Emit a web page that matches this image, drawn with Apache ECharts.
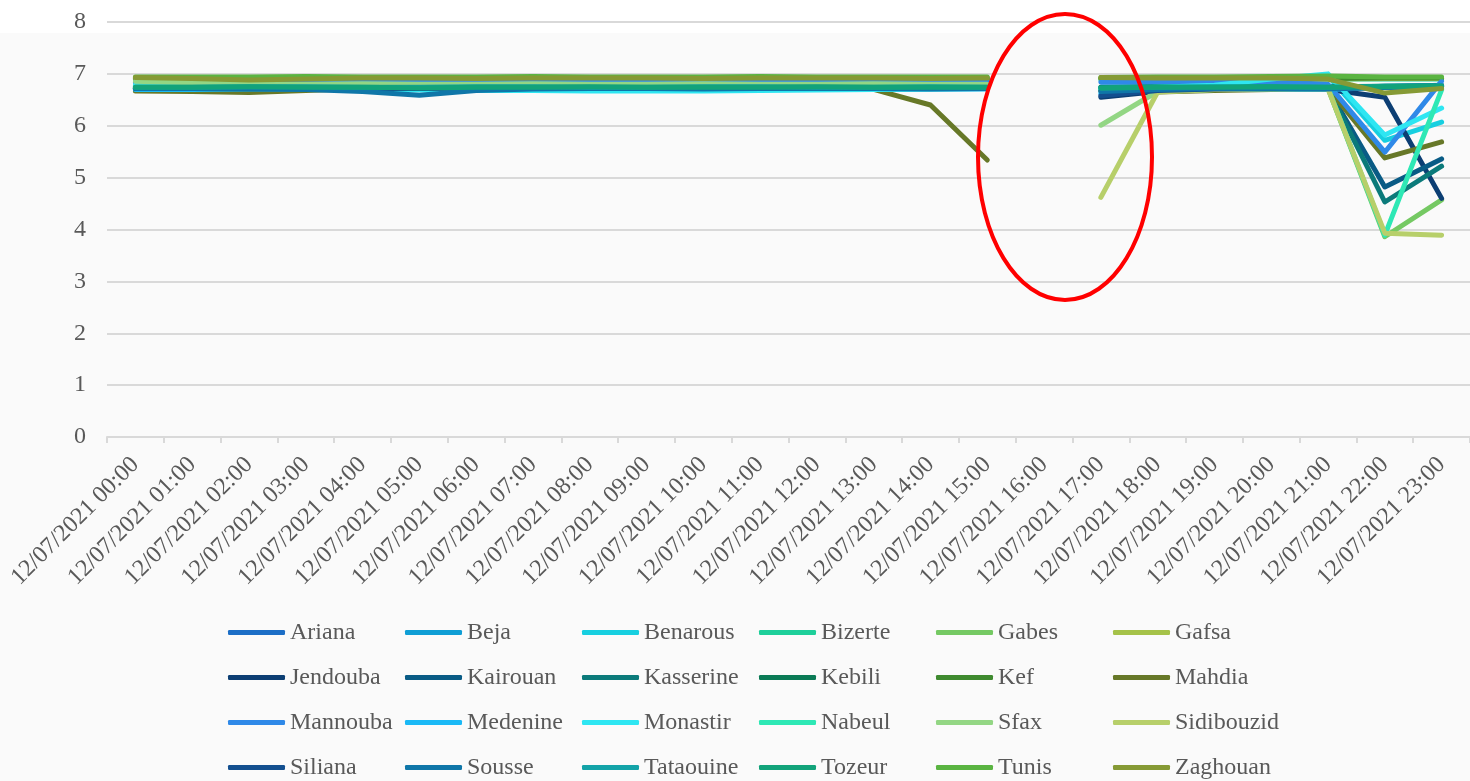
<!DOCTYPE html>
<html>
<head>
<meta charset="utf-8">
<script src="https://cdn.jsdelivr.net/npm/echarts@6/dist/echarts.min.js"></script>
<style>
  html, body { margin: 0; padding: 0; background: #fff; }
  #chart { width: 1470px; height: 781px; }
</style>
</head>
<body>
<div id="chart"></div>
<script>
// hourly readings, 12/07/2021 (16:00 missing for every region)
var hours = ['12/07/2021 00:00','12/07/2021 01:00','12/07/2021 02:00','12/07/2021 03:00','12/07/2021 04:00','12/07/2021 05:00',
  '12/07/2021 06:00','12/07/2021 07:00','12/07/2021 08:00','12/07/2021 09:00','12/07/2021 10:00','12/07/2021 11:00',
  '12/07/2021 12:00','12/07/2021 13:00','12/07/2021 14:00','12/07/2021 15:00','12/07/2021 16:00','12/07/2021 17:00',
  '12/07/2021 18:00','12/07/2021 19:00','12/07/2021 20:00','12/07/2021 21:00','12/07/2021 22:00','12/07/2021 23:00'];
var yTicks = [0, 1, 2, 3, 4, 5, 6, 7, 8];

var ariana     = [6.74,6.74,6.75,6.76,6.75,6.72,6.73,6.74,6.75,6.74,6.74,6.75,6.74,6.74,6.75,6.74,null,6.72,6.74,6.75,6.74,6.73,6.75,6.78];
var beja       = [6.72,6.72,6.73,6.73,6.74,6.73,6.73,6.72,6.73,6.73,6.72,6.73,6.73,6.72,6.73,6.73,null,6.72,6.73,6.74,6.73,6.72,6.76,6.77];
var benarous   = [6.76,6.75,6.75,6.76,6.76,6.75,6.74,6.74,6.73,6.73,6.72,6.73,6.74,6.75,6.74,6.74,null,6.74,6.76,6.80,6.88,6.96,5.72,6.07];
var bizerte    = [6.88,6.88,6.89,6.90,6.90,6.89,6.90,6.90,6.91,6.90,6.90,6.90,6.90,6.91,6.90,6.90,null,6.88,6.89,6.90,6.90,6.90,6.90,6.90];
var gabes      = [6.71,6.71,6.72,6.72,6.73,6.72,6.72,6.72,6.73,6.72,6.72,6.72,6.73,6.72,6.72,6.72,null,6.70,6.72,6.72,6.73,6.72,3.86,4.57];
var gafsa      = [6.90,6.90,6.89,6.90,6.91,6.90,6.90,6.91,6.91,6.90,6.90,6.91,6.90,6.90,6.91,6.90,null,6.90,6.91,6.90,6.91,6.90,6.91,6.91];
var jendouba   = [6.73,6.73,6.74,6.74,6.73,6.73,6.74,6.74,6.73,6.73,6.74,6.74,6.73,6.73,6.74,6.73,null,6.55,6.66,6.70,6.72,6.70,6.55,4.60];
var kairouan   = [6.71,6.71,6.72,6.72,6.72,6.71,6.71,6.72,6.72,6.72,6.71,6.72,6.72,6.71,6.72,6.72,null,6.68,6.70,6.72,6.72,6.71,4.82,5.36];
var kasserine  = [6.72,6.72,6.72,6.73,6.73,6.72,6.72,6.73,6.73,6.72,6.72,6.73,6.73,6.72,6.72,6.73,null,6.70,6.72,6.73,6.72,6.72,4.53,5.22];
var kebili     = [6.75,6.75,6.76,6.76,6.75,6.75,6.76,6.76,6.75,6.75,6.76,6.76,6.75,6.75,6.76,6.75,null,6.74,6.75,6.76,6.76,6.75,6.76,6.77];
var kef        = [6.91,6.91,6.90,6.91,6.92,6.91,6.91,6.92,6.92,6.91,6.91,6.92,6.91,6.91,6.92,6.91,null,6.91,6.92,6.91,6.92,6.91,6.92,6.92];
var mahdia     = [6.67,6.66,6.64,6.68,6.72,6.72,6.72,6.69,6.71,6.71,6.72,6.72,6.72,6.70,6.40,5.34,null,6.68,6.65,6.68,6.70,6.72,5.38,5.69];
var mannouba   = [6.84,6.84,6.85,6.88,6.85,6.84,6.84,6.85,6.86,6.86,6.85,6.85,6.86,6.86,6.85,6.86,null,6.84,6.85,6.86,6.85,6.80,5.49,6.86];
var medenine   = [6.70,6.70,6.71,6.71,6.72,6.71,6.70,6.71,6.71,6.70,6.70,6.71,6.71,6.70,6.71,6.71,null,6.62,6.68,6.70,6.71,6.70,6.74,6.75];
var monastir   = [6.78,6.76,6.74,6.72,6.70,6.69,6.68,6.68,6.67,6.67,6.67,6.68,6.69,6.70,6.71,6.72,null,6.70,6.74,6.78,6.90,7.00,5.82,6.34];
var nabeul     = [6.73,6.73,6.74,6.74,6.74,6.73,6.73,6.74,6.74,6.73,6.73,6.74,6.74,6.73,6.74,6.74,null,6.72,6.73,6.74,6.74,6.73,3.89,6.69];
var sfax       = [6.86,6.83,6.80,6.80,6.81,6.80,6.80,6.81,6.80,6.80,6.81,6.80,6.80,6.81,6.80,6.80,null,6.01,6.66,6.70,6.72,6.72,6.74,6.75];
var sidibouzid = [6.74,6.74,6.73,6.74,6.74,6.74,6.73,6.74,6.74,6.74,6.73,6.74,6.74,6.74,6.73,6.74,null,4.62,6.65,6.70,6.72,6.71,3.93,3.89];
var siliana    = [6.72,6.72,6.73,6.73,6.72,6.72,6.73,6.73,6.72,6.72,6.73,6.73,6.72,6.72,6.73,6.72,null,6.58,6.68,6.71,6.72,6.72,6.74,6.76];
var sousse     = [6.72,6.72,6.71,6.70,6.66,6.59,6.68,6.71,6.72,6.72,6.71,6.72,6.72,6.72,6.71,6.72,null,6.66,6.70,6.72,6.72,6.71,6.74,6.76];
var tataouine  = [6.74,6.74,6.75,6.75,6.74,6.74,6.75,6.75,6.74,6.74,6.75,6.75,6.74,6.74,6.75,6.74,null,6.73,6.74,6.75,6.75,6.74,6.76,6.77];
var tozeur     = [6.74,6.74,6.75,6.74,6.74,6.73,6.74,6.74,6.75,6.74,6.74,6.74,6.75,6.74,6.74,6.74,null,6.73,6.74,6.74,6.75,6.74,6.75,6.76];
var tunis      = [6.94,6.94,6.94,6.95,6.94,6.94,6.94,6.95,6.94,6.94,6.94,6.95,6.94,6.94,6.94,6.94,null,6.93,6.94,6.94,6.95,6.96,6.94,6.94];
var zaghouan   = [6.93,6.91,6.88,6.90,6.92,6.92,6.91,6.92,6.92,6.92,6.91,6.92,6.92,6.92,6.91,6.92,null,6.93,6.92,6.92,6.92,6.90,6.63,6.72];

var regions = ['Ariana','Beja','Benarous','Bizerte','Gabes','Gafsa','Jendouba','Kairouan','Kasserine','Kebili','Kef','Mahdia',
  'Mannouba','Medenine','Monastir','Nabeul','Sfax','Sidibouzid','Siliana','Sousse','Tataouine','Tozeur','Tunis','Zaghouan'];
var regionData = [ariana, beja, benarous, bizerte, gabes, gafsa, jendouba, kairouan, kasserine, kebili, kef, mahdia,
  mannouba, medenine, monastir, nabeul, sfax, sidibouzid, siliana, sousse, tataouine, tozeur, tunis, zaghouan];

var palette = ['#1c6ec6','#0f9ed5','#17cfe0','#1ecf9a','#75c963','#a5c249',
  '#0c3e73','#095b85','#0b7a7a','#0a7a55','#3f8a2f','#677828',
  '#2f89e8','#1ab9f6','#2ee6f2','#2ee8b5','#93d684','#b7cf6a',
  '#134f8f','#0f76a8','#13a3a8','#12a37a','#5ab441','#869a35'];

var textColor = '#595959';
var font = 'Liberation Serif';

var series = [];
for (var i = 0; i < regions.length; i++) {
  series.push({
    name: regions[i],
    type: 'line',
    data: regionData[i],
    symbol: 'none',
    lineStyle: { width: 5, cap: 'round', join: 'round' }
  });
}

var myChart = echarts.init(document.getElementById('chart'));
myChart.setOption({
  backgroundColor: '#ffffff',
  color: palette,
  animation: false,
  textStyle: { fontFamily: font },
  graphic: [
    { type: 'rect', z: -10, silent: true, shape: { x: 0, y: 33, width: 1470, height: 748 }, style: { fill: '#fafafa' } },
    { type: 'ellipse', z: 100, silent: true, shape: { cx: 1065, cy: 157, rx: 87, ry: 143 },
      style: { fill: 'none', stroke: '#ff0000', lineWidth: 4 } }
  ],
  grid: { left: 107, right: -15, top: 22, bottom: 344, containLabel: false },
  legend: {
    data: regions,
    left: 223,
    top: 605,
    width: 1070,
    icon: 'roundRect',
    itemWidth: 57,
    itemHeight: 5,
    itemGap: 0,
    textStyle: { color: textColor, fontFamily: font, fontSize: 24, width: 115, lineHeight: 45, overflow: 'none' }
  },
  xAxis: {
    type: 'category',
    data: hours,
    boundaryGap: true,
    axisLine: { lineStyle: { color: '#d9d9d9', width: 2 } },
    axisTick: { show: true, length: 6, lineStyle: { color: '#d9d9d9', width: 2 } },
    axisLabel: { interval: 0, rotate: 45, margin: 24, color: textColor, fontFamily: font, fontSize: 24 },
    splitLine: { show: false }
  },
  yAxis: {
    type: 'value',
    min: yTicks[0],
    max: yTicks[yTicks.length - 1],
    interval: 1,
    axisLine: { show: false },
    axisTick: { show: false },
    axisLabel: { margin: 21, color: textColor, fontFamily: font, fontSize: 24 },
    splitLine: { lineStyle: { color: '#d9d9d9', width: 2 } }
  },
  series: series
});
</script>
</body>
</html>
